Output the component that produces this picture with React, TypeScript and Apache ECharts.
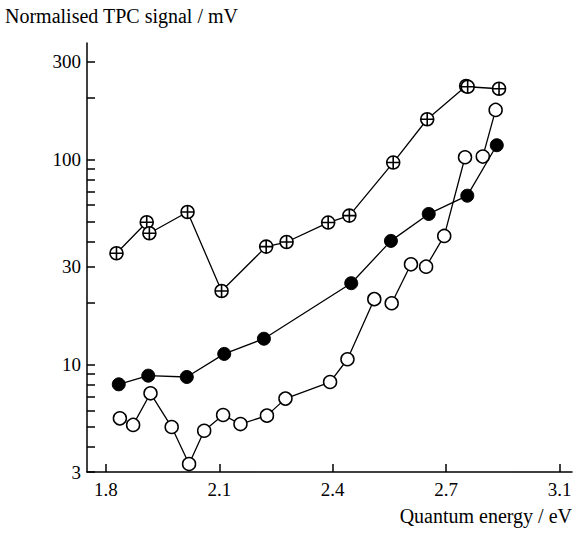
import React, { useEffect, useRef } from "react";
import * as echarts from "echarts";

// ---- data ----
const crossedEnergy = [1.828, 1.908, 1.915, 2.016, 2.106, 2.224, 2.278, 2.388, 2.444, 2.56, 2.65, 2.753, 2.757, 2.84];
const crossedSignal = [35.0, 49.6, 43.8, 55.6, 22.9, 37.7, 39.7, 49.4, 53.4, 96.9, 157.6, 229, 227, 222];

const filledEnergy = [1.834, 1.912, 2.014, 2.113, 2.218, 2.449, 2.554, 2.654, 2.756, 2.834];
const filledSignal = [8.03, 8.85, 8.72, 11.3, 13.4, 25.0, 40.2, 54.4, 66.8, 117.7];

const openEnergy = [1.837, 1.872, 1.918, 1.974, 2.02, 2.06, 2.11, 2.156, 2.226, 2.275, 2.393, 2.439, 2.51, 2.556, 2.607, 2.647, 2.695, 2.75, 2.797, 2.831];
const openSignal = [5.48, 5.09, 7.26, 4.97, 3.28, 4.77, 5.69, 5.14, 5.65, 6.84, 8.24, 10.64, 20.9, 19.95, 30.9, 30.1, 42.5, 102.8, 103.6, 175];
// which connected trace each open-circle point belongs to
const openTrace = [1, 2, 2, 2, 2, 2, 2, 2, 2, 2, 2, 2, 2, 3, 3, 4, 4, 4, 5, 5];

const xTickValues = [1.8, 2.1, 2.4, 2.7, 3.0];
const xTickLabels = ["1.8", "2.1", "2.4", "2.7", "3.1"];
const yLabelValues = [3, 10, 30, 100, 300];
const yTickValues = [3, 4, 5, 6, 7, 8, 9, 10, 20, 30, 40, 50, 60, 70, 80, 90, 100, 200, 300];

const yTitle = "Normalised TPC signal / mV";
const xTitle = "Quantum energy / eV";

const FONT = "'Liberation Serif', 'DejaVu Serif', serif";

const crossSymbol =
  "path://M12,0A12,12,0,1,1,12,24A12,12,0,1,1,12,0ZM0,12L24,12M12,0L12,24";

export default function App() {
  const ref = useRef<HTMLDivElement>(null);

  useEffect(() => {
    if (!ref.current) return;
    const chart = echarts.init(ref.current, null, { renderer: "svg" });

    const lineStyle = { color: "#000", width: 1.3 };

    const openSeries: any[] = [];
    const traces = Array.from(new Set(openTrace));
    traces.forEach((t) => {
      const pts: number[][] = [];
      openEnergy.forEach((e, i) => {
        if (openTrace[i] === t) pts.push([e, openSignal[i]]);
      });
      openSeries.push({
        type: "line",
        data: pts,
        symbol: "circle",
        symbolSize: 13,
        showSymbol: true,
        lineStyle,
        itemStyle: { color: "#fff", borderColor: "#000", borderWidth: 1.5 },
        z: 3,
      });
    });

    chart.setOption({
      animation: false,
      backgroundColor: "#fff",
      grid: { left: 87, right: 4, top: 43, bottom: 65 },
      xAxis: {
        type: "value",
        min: 1.75,
        max: 3.033,
        axisLine: { show: true, onZero: false, lineStyle: { color: "#000", width: 1.5 } },
        axisTick: {
          show: true,
          inside: true,
          length: 8,
          customValues: xTickValues,
          lineStyle: { color: "#000", width: 1.5 },
        },
        axisLabel: {
          customValues: xTickValues,
          formatter: (v: number) => {
            const i = xTickValues.findIndex((t) => Math.abs(t - v) < 1e-6);
            return i >= 0 ? xTickLabels[i] : "";
          },
          color: "#000",
          fontFamily: FONT,
          fontSize: 19,
          margin: 8,
        },
        splitLine: { show: false },
      },
      yAxis: {
        type: "log",
        logBase: 10,
        min: 3,
        max: 371,
        axisLine: { show: true, lineStyle: { color: "#000", width: 1.5 } },
        axisTick: {
          show: true,
          inside: true,
          length: 8,
          customValues: yTickValues,
          lineStyle: { color: "#000", width: 1.5 },
        },
        axisLabel: {
          customValues: yLabelValues,
          formatter: (v: number) => String(Math.round(v)),
          color: "#000",
          fontFamily: FONT,
          fontSize: 19,
          margin: 6,
        },
        splitLine: { show: false },
        minorTick: { show: false },
      },
      graphic: [
        {
          type: "text",
          left: 5,
          top: 6,
          style: { text: yTitle, font: `20px ${FONT}`, fill: "#000" },
        },
        {
          type: "text",
          right: 4,
          top: 506,
          style: { text: xTitle, font: `20px ${FONT}`, fill: "#000" },
        },
      ],
      series: [
        {
          type: "line",
          data: crossedEnergy.map((e, i) => [e, crossedSignal[i]]),
          symbol: crossSymbol,
          symbolSize: 13,
          showSymbol: true,
          lineStyle,
          itemStyle: { color: "#fff", borderColor: "#000", borderWidth: 1.6 },
          z: 3,
        },
        {
          type: "line",
          data: filledEnergy.map((e, i) => [e, filledSignal[i]]),
          symbol: "circle",
          symbolSize: 13,
          showSymbol: true,
          lineStyle,
          itemStyle: { color: "#000", borderColor: "#000", borderWidth: 1 },
          z: 3,
        },
        ...openSeries,
      ],
    });

    return () => chart.dispose();
  }, []);

  return <div ref={ref} style={{ width: 576, height: 537, position: "absolute", left: 0, top: 0 }} />;
}
